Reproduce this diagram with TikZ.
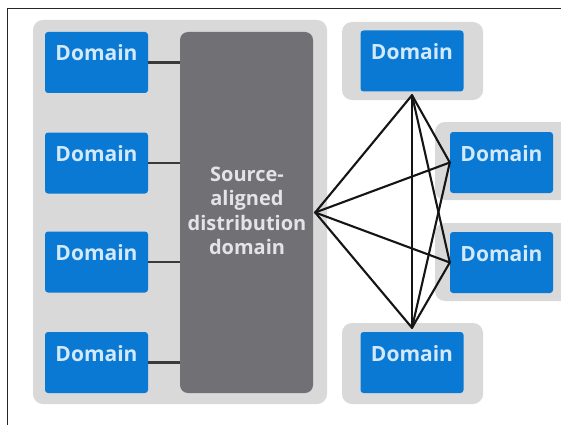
\documentclass[tikz,border=0pt]{standalone}
\usepackage{fontspec}
\setmainfont{Open Sans}
\begin{document}
\begin{tikzpicture}[x=1pt,y=-1pt,
  panel/.style={fill=panelgray, draw=none, rounded corners=10pt},
  domainbox/.style={fill=domblue, draw=none, rounded corners=3pt,
    minimum width=103pt, minimum height=61pt, inner sep=0pt,
    text=domtext, font=\bfseries\fontsize{21}{24}\selectfont,
    text height=15pt, text depth=18pt},
  hubbox/.style={fill=hubgray, draw=none, rounded corners=8pt,
    minimum width=133pt, minimum height=361pt, inner sep=0pt},
  hublabel/.style={text=hubtext, align=center,
    font=\bfseries\fontsize{20}{24.5}\selectfont, inner sep=0pt},
  feed/.style={draw=feedgray, line width=2.4pt},
  mesh/.style={draw=meshblack, line width=2.1pt, line cap=round}]

\definecolor{panelgray}{HTML}{D9D9DA}
\definecolor{domblue}{HTML}{0A79D3}
\definecolor{domtext}{HTML}{D2E9FC}
\definecolor{hubgray}{HTML}{707075}
\definecolor{hubtext}{HTML}{E4E4E6}
\definecolor{feedgray}{HTML}{3A3A3C}
\definecolor{meshblack}{HTML}{151515}

\useasboundingbox (0,0) rectangle (561,425);
\fill[white] (0,0) rectangle (561,425);

% frame lines
\coordinate (fo) at (7,9);
\coordinate (fr) at (561,9);
\coordinate (fb) at (7,425);
\draw[line width=1pt, black!85] (fr) -- (fo) -- (fb);

% grey backing panels
\fill[panel] (33,20) rectangle (327,404);
\fill[panel] (342,22) rectangle (483,100);
\fill[panel] (435,122) rectangle (575,200);
\fill[panel] (435,223) rectangle (575,301);
\fill[panel] (342,323) rectangle (483,404);

% source-aligned distribution domain
\node[hubbox] (hub) at (246.5,212.5) {};
\node[hublabel] (hubtxt) at (247,211) {Source-\\aligned\\distribution\\domain};

% feeding domains on the left
\node[domainbox] (l1) at (96.5,62.5) {Domain};
\node[domainbox] (l2) at (96.5,163) {Domain};
\node[domainbox] (l3) at (96.5,262) {Domain};
\node[domainbox] (l4) at (96.5,362.5) {Domain};

\foreach \n in {l1,l2,l3,l4}
  \draw[feed] (\n.east) -- (hub.west |- \n.east);

% consuming domains on the right
\node[domainbox] (rt) at (412,61) {Domain};
\node[domainbox] (r2) at (501.5,162.5) {Domain};
\node[domainbox] (r3) at (501.5,262.5) {Domain};
\node[domainbox] (rb) at (412,362.5) {Domain};

% mesh junction points
\coordinate (h) at ([xshift=2pt]hub.east);
\coordinate (t) at ([yshift=-3.5pt]rt.south);
\coordinate (b) at ([yshift=4pt]rb.north);
\coordinate (p2) at (r2.west);
\coordinate (p3) at (r3.west);

\draw[mesh] (h) -- (t);
\draw[mesh] (h) -- (p2);
\draw[mesh] (h) -- (p3);
\draw[mesh] (h) -- (b);
\draw[mesh] (t) -- (b);
\draw[mesh] (t) -- (p2);
\draw[mesh] (t) -- (p3);
\draw[mesh] (b) -- (p2);
\draw[mesh] (b) -- (p3);
\end{tikzpicture}
\end{document}
